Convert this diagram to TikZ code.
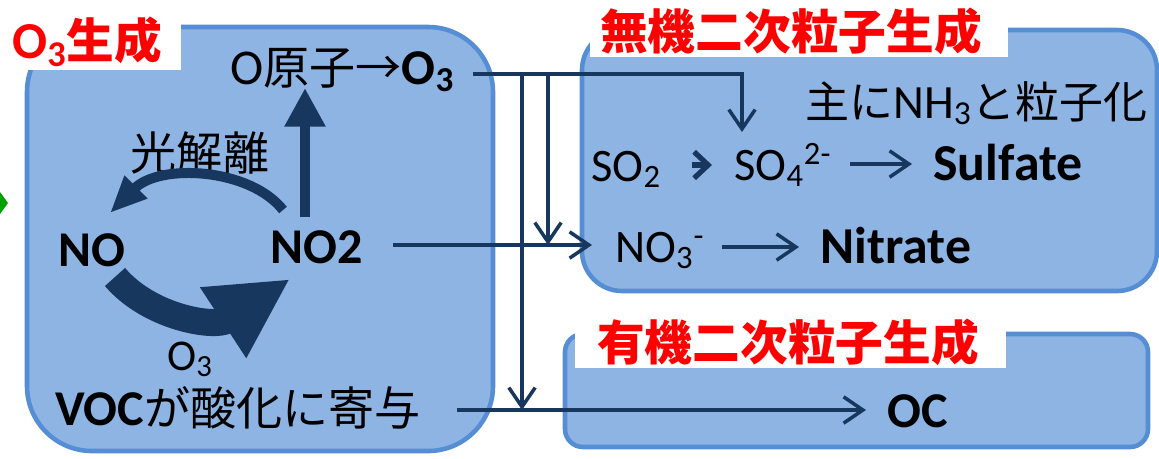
\documentclass[tikz,border=0pt]{standalone}
\usepackage{fontspec}
\setmainfont{Carlito}
\newfontfamily\jp[Scale=0.92]{Noto Sans CJK JP}
\usetikzlibrary{arrows.meta}
\definecolor{boxfill}{HTML}{8EB4E3}
\definecolor{boxline}{HTML}{558ED5}
\definecolor{arr}{HTML}{17375E}
\definecolor{grn}{HTML}{00A000}
\newcommand\J[1]{{\jp #1}}
\newcommand\sbs[1]{\textsubscript{#1}}
\newcommand\sps[1]{\textsuperscript{#1}}
\begin{document}
\begin{tikzpicture}[x=0.02cm,y=-0.02cm,
  panel/.style={draw=boxline,fill=boxfill,line width=2.6pt},
  lblbg/.style={fill=white},
  redtxt/.style={text=red,inner sep=0,font=\fontsize{29.5}{32}\selectfont\bfseries},
  txt/.style={inner sep=0,font=\fontsize{28.5}{32}\selectfont},
  nhtxt/.style={inner sep=0,font=\fontsize{27.2}{30}\selectfont},
  smtxt/.style={inner sep=0,font=\fontsize{26.5}{30}\selectfont},
  bigtxt/.style={inner sep=0,font=\fontsize{28.5}{32}\selectfont\bfseries},
  bigtxtb/.style={inner sep=0,font=\fontsize{29.5}{32}\selectfont\bfseries},
  conn/.style={draw=arr,line width=2pt,-{Straight Barb[length=11pt,width=15pt]}},
  stub/.style={draw=arr,line width=3pt,-{Straight Barb[length=8pt,width=15pt]}},
  thick1/.style={draw=arr,line width=5.7pt,-{Triangle[length=22pt,width=22pt]}},
  thick2/.style={draw=arr,line width=5.7pt,-{Triangle[length=21pt,width=17pt]}},
  thick3/.style={draw=arr,line width=15.4pt,-{Triangle[length=45.5pt,width=44.7pt]}}
]
\useasboundingbox (0,0) rectangle (1159,458);
% panels
\draw[panel,rounded corners=1.3cm] (27,27) rectangle (493,451);
\draw[panel,rounded corners=0.8cm] (582,30) rectangle (1157,291);
\draw[panel,rounded corners=0.36cm] (565,334) rectangle (1148,447);
% label backgrounds
\fill[lblbg] (8,0) rectangle (181,70);
\fill[lblbg] (590,0) rectangle (1008,57);
\fill[lblbg] (575,315) rectangle (1006,368);
% green mark
\fill[grn] (0,192) -- (8,203) -- (0,214) -- cycle;
% texts
\node[redtxt,anchor=base west] (lblO3) at (12,58) {O\sbs{3}\J{生成}};
\node[redtxt] (lblInorg) at (791,31) {\J{無機二次粒子生成}};
\node[redtxt] (lblOrg) at (788,342) {\J{有機二次粒子生成}};
\node[txt,anchor=base west] (oatom) at (230,84) {O\J{原子→}\textbf{O\sbs{3}}};
\node[txt] (kou) at (200,153) {\J{光解離}};
\node[bigtxt,anchor=base west] (no) at (58,266) {NO};
\node[bigtxt,anchor=base west] (no2) at (270,263) {NO2};
\node[smtxt,anchor=base west,font=\fontsize{25}{28}\selectfont] (o3b) at (167,370) {O\sbs{3}};
\node[txt,anchor=base west] (voc) at (55,425) {\textbf{VOC}\J{が酸化に寄与}};
\node[nhtxt,anchor=base west] (nh3) at (805,118) {\J{主に}NH\sbs{3}\J{と粒子化}};
\node[smtxt,anchor=base west] (so2) at (591,181) {SO\sbs{2}};
\node[smtxt,anchor=base west] (so4) at (734,180) {SO\sbs{4}\sps{2-}};
\node[bigtxtb,anchor=base west] (sulf) at (933,180) {Sulfate};
\node[smtxt,anchor=base west] (no3) at (615,262) {NO\sbs{3}\sps{-}};
\node[bigtxtb,anchor=base west] (nit) at (820,263) {Nitrate};
\node[bigtxt,anchor=base west] (oc) at (887,427) {OC};
% junction coordinates
\coordinate (o3s) at (473,74);
\coordinate (so4in) at (742,132);
\coordinate (v1t) at (522,74);
\coordinate (v1b) at (522,410);
\coordinate (v2t) at (548,74);
\coordinate (v2b) at (548,245);
\coordinate (no2s) at (393,245);
\coordinate (no3in) at (592,245);
\coordinate (vocs) at (457,410);
\coordinate (ocin) at (866,410);
\coordinate (a1s) at (692,165);
\coordinate (a1e) at (712,165);
\coordinate (a2s) at (850,164);
\coordinate (a2e) at (912,164);
\coordinate (a3s) at (722,247);
\coordinate (a3e) at (799,247);
% thin connectors
\draw[conn] (o3s) -| (so4in);
\draw[conn] (v1t) -- (v1b);
\draw[conn] (v2t) -- (v2b);
\draw[conn] (no2s) -- (no3in);
\draw[conn] (vocs) -- (ocin);
\draw[stub] (a1s) -- (a1e);
\draw[conn] (a2s) -- (a2e);
\draw[conn] (a3s) -- (a3e);
% thick arrows
\coordinate (vs) at (305,217);
\coordinate (ve) at (305,88);
\draw[thick1] (vs) -- (ve);
\coordinate (ps) at (283,210);
\coordinate (pe) at (110,213);
\draw[thick2] (ps) .. controls (250,168) and (160,163) .. (pe);
\coordinate (bs) at (115,277);
\coordinate (be) at (290,279);
\draw[thick3] (bs) .. controls (150,318) and (215,328) .. (be);
\end{tikzpicture}
\end{document}
